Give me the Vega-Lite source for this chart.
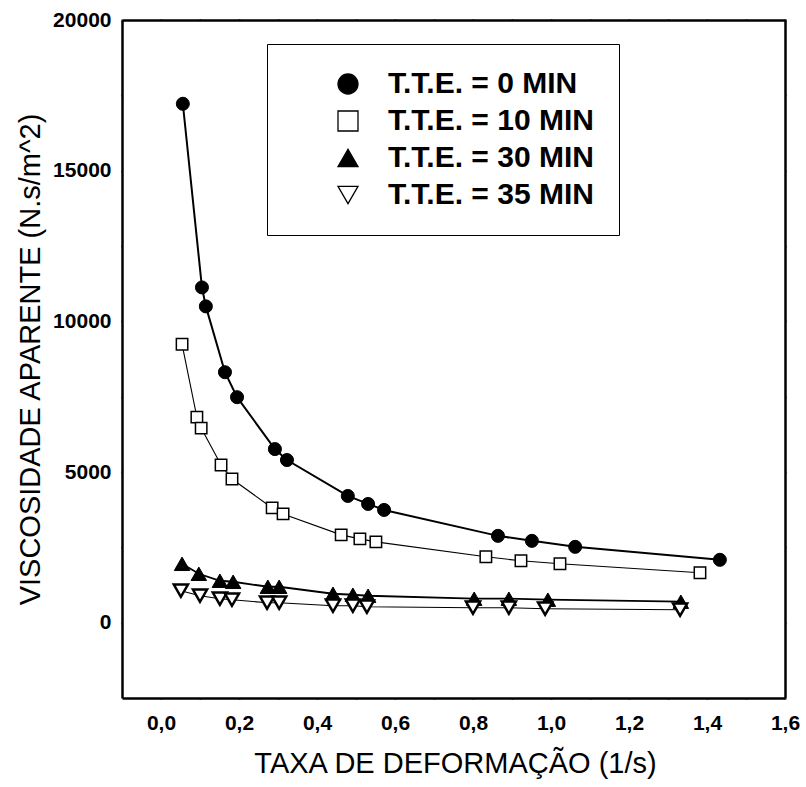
{
  "$schema": "https://vega.github.io/schema/vega-lite/v6.json",
  "autosize": "none",
  "width": 663,
  "height": 678,
  "padding": {"left": 122, "top": 20, "right": 21, "bottom": 89},
  "background": "white",
  "config": {
    "view": {"stroke": null},
    "font": "Liberation Sans",
    "axis": {
      "domainColor": "black", "domainWidth": 2.5, "tickColor": "black", "tickWidth": 2, "tickSize": 1, "zindex": 1,
      "grid": false, "labelFont": "Liberation Sans", "labelFontWeight": "bold", "labelFontSize": 21,
      "labelColor": "black", "labelFlush": false, "labelOverlap": false,
      "titleFont": "Liberation Sans", "titleFontSize": 29, "titleFontWeight": "normal", "titleColor": "black"
    },
    "legend": {"zindex": 1}
  },
  "data": {
    "values": [
      {"s": "T.T.E. = 0 MIN", "x": 0.056, "y": 17220},
      {"s": "T.T.E. = 0 MIN", "x": 0.105, "y": 11125},
      {"s": "T.T.E. = 0 MIN", "x": 0.115, "y": 10496},
      {"s": "T.T.E. = 0 MIN", "x": 0.164, "y": 8311},
      {"s": "T.T.E. = 0 MIN", "x": 0.195, "y": 7483},
      {"s": "T.T.E. = 0 MIN", "x": 0.292, "y": 5761},
      {"s": "T.T.E. = 0 MIN", "x": 0.323, "y": 5397},
      {"s": "T.T.E. = 0 MIN", "x": 0.479, "y": 4205},
      {"s": "T.T.E. = 0 MIN", "x": 0.531, "y": 3940},
      {"s": "T.T.E. = 0 MIN", "x": 0.572, "y": 3741},
      {"s": "T.T.E. = 0 MIN", "x": 0.864, "y": 2881},
      {"s": "T.T.E. = 0 MIN", "x": 0.951, "y": 2715},
      {"s": "T.T.E. = 0 MIN", "x": 1.062, "y": 2516},
      {"s": "T.T.E. = 0 MIN", "x": 1.433, "y": 2086},
      {"s": "T.T.E. = 10 MIN", "x": 0.054, "y": 9238},
      {"s": "T.T.E. = 10 MIN", "x": 0.092, "y": 6821},
      {"s": "T.T.E. = 10 MIN", "x": 0.103, "y": 6456},
      {"s": "T.T.E. = 10 MIN", "x": 0.154, "y": 5231},
      {"s": "T.T.E. = 10 MIN", "x": 0.182, "y": 4768},
      {"s": "T.T.E. = 10 MIN", "x": 0.285, "y": 3808},
      {"s": "T.T.E. = 10 MIN", "x": 0.313, "y": 3609},
      {"s": "T.T.E. = 10 MIN", "x": 0.462, "y": 2914},
      {"s": "T.T.E. = 10 MIN", "x": 0.510, "y": 2781},
      {"s": "T.T.E. = 10 MIN", "x": 0.551, "y": 2682},
      {"s": "T.T.E. = 10 MIN", "x": 0.833, "y": 2185},
      {"s": "T.T.E. = 10 MIN", "x": 0.923, "y": 2053},
      {"s": "T.T.E. = 10 MIN", "x": 1.023, "y": 1953},
      {"s": "T.T.E. = 10 MIN", "x": 1.382, "y": 1656},
      {"s": "T.T.E. = 30 MIN", "x": 0.054, "y": 1953},
      {"s": "T.T.E. = 30 MIN", "x": 0.097, "y": 1622},
      {"s": "T.T.E. = 30 MIN", "x": 0.151, "y": 1391},
      {"s": "T.T.E. = 30 MIN", "x": 0.185, "y": 1358},
      {"s": "T.T.E. = 30 MIN", "x": 0.274, "y": 1192},
      {"s": "T.T.E. = 30 MIN", "x": 0.303, "y": 1192},
      {"s": "T.T.E. = 30 MIN", "x": 0.441, "y": 960},
      {"s": "T.T.E. = 30 MIN", "x": 0.492, "y": 927},
      {"s": "T.T.E. = 30 MIN", "x": 0.531, "y": 894},
      {"s": "T.T.E. = 30 MIN", "x": 0.803, "y": 795},
      {"s": "T.T.E. = 30 MIN", "x": 0.892, "y": 795},
      {"s": "T.T.E. = 30 MIN", "x": 0.992, "y": 762},
      {"s": "T.T.E. = 30 MIN", "x": 1.333, "y": 695},
      {"s": "T.T.E. = 35 MIN", "x": 0.051, "y": 1060},
      {"s": "T.T.E. = 35 MIN", "x": 0.100, "y": 894},
      {"s": "T.T.E. = 35 MIN", "x": 0.151, "y": 795},
      {"s": "T.T.E. = 35 MIN", "x": 0.182, "y": 762},
      {"s": "T.T.E. = 35 MIN", "x": 0.272, "y": 662},
      {"s": "T.T.E. = 35 MIN", "x": 0.303, "y": 662},
      {"s": "T.T.E. = 35 MIN", "x": 0.441, "y": 563},
      {"s": "T.T.E. = 35 MIN", "x": 0.492, "y": 563},
      {"s": "T.T.E. = 35 MIN", "x": 0.528, "y": 530},
      {"s": "T.T.E. = 35 MIN", "x": 0.800, "y": 497},
      {"s": "T.T.E. = 35 MIN", "x": 0.892, "y": 497},
      {"s": "T.T.E. = 35 MIN", "x": 0.985, "y": 464},
      {"s": "T.T.E. = 35 MIN", "x": 1.331, "y": 430}
    ]
  },
  "layer": [
    {
      "mark": {"type": "line", "color": "black"},
      "encoding": {
        "x": {
          "field": "x", "type": "quantitative",
          "scale": {"domain": [-0.1, 1.6], "nice": false, "zero": false},
          "axis": {
            "orient": "bottom",
            "title": "TAXA DE DEFORMAÇÃO (1/s)",
            "values": [0, 0.1, 0.2, 0.3, 0.4, 0.5, 0.6, 0.7, 0.8, 0.9, 1.0, 1.1, 1.2, 1.3, 1.4, 1.5, 1.6],
            "labelExpr": "round(datum.value*10) % 2 == 0 ? replace(format(datum.value, '.1f'), '.', ',') : ''",
            "labelPadding": 13,
            "titleX": 333, "titleY": 65, "titleBaseline": "middle", "titleAnchor": "middle"
          }
        },
        "y": {
          "field": "y", "type": "quantitative",
          "scale": {"domain": [-2500, 20000], "nice": false, "zero": false},
          "axis": {
            "orient": "left",
            "title": "VISCOSIDADE APARENTE (N.s/m^2)",
            "values": [0, 2500, 5000, 7500, 10000, 12500, 15000, 17500, 20000],
            "labelExpr": "datum.value % 5000 == 0 ? format(datum.value, 'd') : ''",
            "labelPadding": 10,
            "titleX": -92, "titleY": 339, "titleBaseline": "middle", "titleAnchor": "middle"
          }
        },
        "detail": {"field": "s"},
        "strokeWidth": {
          "condition": [
            {"test": "datum.s == 'T.T.E. = 0 MIN'", "value": 2},
            {"test": "datum.s == 'T.T.E. = 30 MIN'", "value": 1.8}
          ],
          "value": 1.1
        }
      }
    },
    {
      "mark": {"type": "point", "filled": true, "stroke": "black", "opacity": 1},
      "encoding": {
        "x": {
          "field": "x", "type": "quantitative",
          "axis": {
            "orient": "top", "title": null, "labels": false,
            "values": [0, 0.1, 0.2, 0.3, 0.4, 0.5, 0.6, 0.7, 0.8, 0.9, 1.0, 1.1, 1.2, 1.3, 1.4, 1.5, 1.6]
          }
        },
        "y": {
          "field": "y", "type": "quantitative",
          "axis": {
            "orient": "right", "title": null, "labels": false,
            "values": [0, 2500, 5000, 7500, 10000, 12500, 15000, 17500, 20000]
          }
        },
        "fill": {
          "field": "s", "type": "nominal",
          "scale": {"domain": ["T.T.E. = 0 MIN", "T.T.E. = 10 MIN", "T.T.E. = 30 MIN", "T.T.E. = 35 MIN"], "range": ["black", "white", "black", "white"]},
          "legend": {
            "title": null, "orient": "none", "legendX": 145, "legendY": 24,
            "strokeColor": "black", "padding": 25, "rowPadding": 7,
            "symbolSize": 400, "symbolOffset": 41, "labelOffset": 25,
            "symbolStrokeColor": "black", "symbolStrokeWidth": 1.3,
            "labelFont": "Liberation Sans", "labelFontSize": 30, "labelFontWeight": "bold", "labelColor": "black", "labelLimit": 400
          }
        },
        "shape": {
          "field": "s", "type": "nominal",
          "scale": {"domain": ["T.T.E. = 0 MIN", "T.T.E. = 10 MIN", "T.T.E. = 30 MIN", "T.T.E. = 35 MIN"], "range": ["circle", "square", "triangle-up", "triangle-down"]}
        },
        "size": {
          "condition": [
            {"test": "datum.s == 'T.T.E. = 0 MIN'", "value": 170},
            {"test": "datum.s == 'T.T.E. = 10 MIN'", "value": 130},
            {"test": "datum.s == 'T.T.E. = 30 MIN'", "value": 240}
          ],
          "value": 200
        },
        "strokeWidth": {
          "condition": [
            {"test": "datum.s == 'T.T.E. = 35 MIN'", "value": 2.5},
            {"test": "datum.s == 'T.T.E. = 10 MIN'", "value": 1.5}
          ],
          "value": 1
        }
      }
    }
  ],
  "resolve": {"axis": {"x": "independent", "y": "independent"}}
}
